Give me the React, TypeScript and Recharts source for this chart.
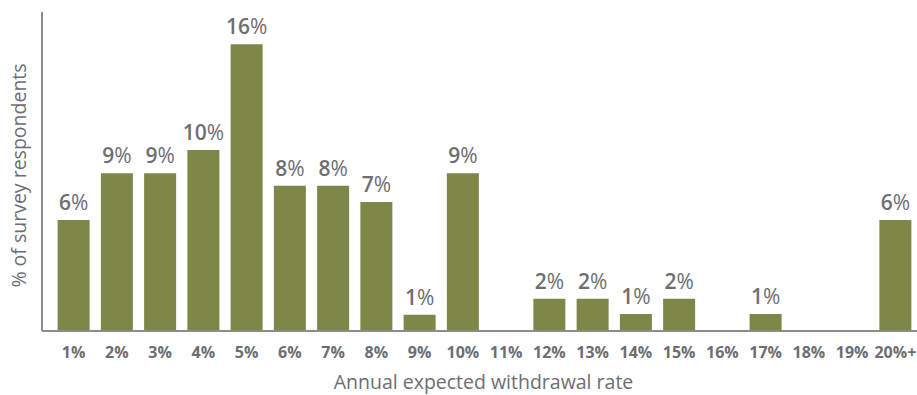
import { Bar, BarChart, LabelList, XAxis, YAxis, Label } from "recharts";

// ─── Data ────────────────────────────────────────────────────
const RATES = [
  "1%", "2%", "3%", "4%", "5%", "6%", "7%", "8%", "9%", "10%",
  "11%", "12%", "13%", "14%", "15%", "16%", "17%", "18%", "19%", "20%+",
];
const SHARES = [
  6.2, 8.8, 8.8, 10.1, 16.0, 8.1, 8.1, 7.2, 0.9, 8.8,
  0, 1.8, 1.8, 0.95, 1.8, 0, 0.95, 0, 0, 6.2,
];

const BAR_COLOR  = "#7e8748";
const TEXT_COLOR = "#6d6e71";
const AXIS_COLOR = "#8c8c8c";
const FONT       = "'Open Sans', sans-serif";

const chartData = RATES.map((rate, i) => ({ rate, share: SHARES[i] }));

function ValueLabel(props: any) {
  const { x, y, width, value } = props;
  if (!value) return null;
  return (
    <text
      x={x + width / 2}
      y={y - 10}
      textAnchor="middle"
      fontFamily={FONT}
      fontSize={21}
      fill={TEXT_COLOR}
    >
      <tspan fontWeight={600}>{Math.round(value)}</tspan>
      <tspan fontWeight={400}>%</tspan>
    </text>
  );
}

export default function App() {
  return (
    <div style={{ position: "absolute", left: 0, top: 0, background: "#fff" }}>
      <BarChart
        width={917}
        height={395}
        data={chartData}
        margin={{ top: 12, right: 0, left: 0, bottom: 34 }}
        barCategoryGap="13%"
      >
        <XAxis
          dataKey="rate"
          interval={0}
          padding={{ left: 10, right: 0 }}
          height={30}
          tickLine={false}
          axisLine={{ stroke: AXIS_COLOR, strokeWidth: 2 }}
          tick={{ fontFamily: FONT, fontSize: 16, fontWeight: 700, fill: TEXT_COLOR }}
          tickMargin={10}
        >
          <Label
            content={({ viewBox }: any) => (
              <text
                x={viewBox.x + viewBox.width / 2 + 4}
                y={viewBox.y + 58}
                textAnchor="middle"
                fontFamily={FONT}
                fontSize={19.5}
                fill={TEXT_COLOR}
              >
                Annual expected withdrawal rate
              </text>
            )}
          />
        </XAxis>
        <YAxis
          width={42}
          domain={[0, 17.8]}
          tick={false}
          tickLine={false}
          axisLine={{ stroke: AXIS_COLOR, strokeWidth: 2 }}
        >
          <Label
            content={({ viewBox }: any) => {
              const cx = 18;
              const cy = viewBox.y + viewBox.height / 2 + 4;
              return (
                <text
                  x={cx}
                  y={cy}
                  transform={`rotate(-90, ${cx}, ${cy})`}
                  textAnchor="middle"
                  dominantBaseline="central"
                  fontFamily={FONT}
                  fontSize={19.5}
                  fill={TEXT_COLOR}
                >
                  % of survey respondents
                </text>
              );
            }}
          />
        </YAxis>
        <Bar dataKey="share" fill={BAR_COLOR} isAnimationActive={false}>
          <LabelList dataKey="share" content={ValueLabel} />
        </Bar>
      </BarChart>
    </div>
  );
}
